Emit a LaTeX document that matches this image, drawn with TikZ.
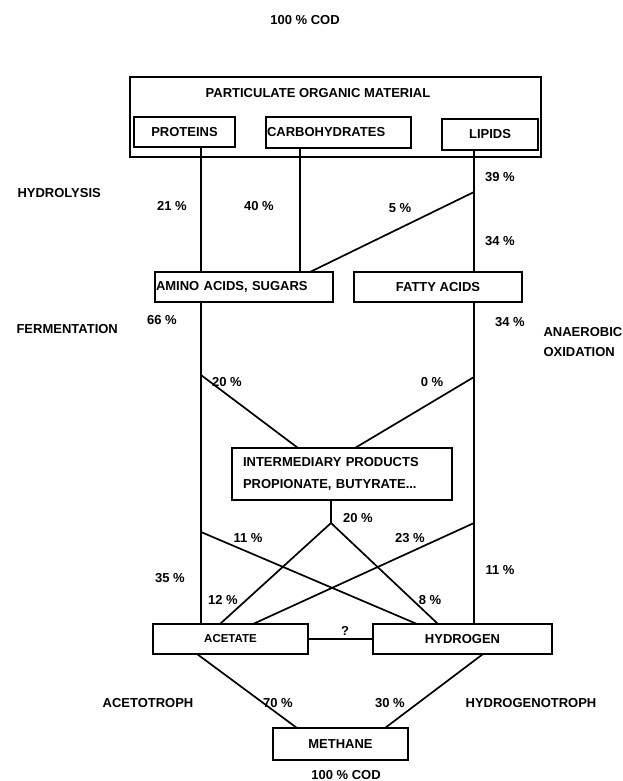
\documentclass[tikz,border=0pt]{standalone}
\usepackage{fontspec}
\setmainfont{Liberation Sans}
\usetikzlibrary{positioning}

\begin{document}
\begin{tikzpicture}[x=1pt, y=-1pt, font=\fontsize{13}{15}\selectfont\bfseries,
  box/.style={draw, line width=1.8pt, outer sep=0pt, inner sep=0pt, minimum height=30pt},
  link/.style={line width=1.7pt}]
  \useasboundingbox (0,0) rectangle (622,781);

  \node (COD1) at (305,20) {100 \% COD};
  \node[box, minimum width=411pt, minimum height=80pt] (POM) at (335.5,117) {};
  \node (POMt) at (318,93) {PARTICULATE ORGANIC MATERIAL};
  \node[box, minimum width=101pt] (P) at (184.5,132) {PROTEINS};
  \node[box, text width=143pt, inner xsep=1pt, align=left, minimum height=31pt] (C) at (338.5,132.5) {CARBOHYDRATES};
  \node[box, minimum width=96pt, minimum height=31pt] (L) at (490,134.5) {LIPIDS};
  \node[box, text width=176pt, inner xsep=1pt, align=left] (AS) at (244,287) {AMINO ACIDS, SUGARS};
  \node[box, minimum width=168pt, right=21pt of AS] (FA) {FATTY ACIDS};
  \node[box, text width=198pt, inner xsep=11pt, align=left, minimum height=52pt,
        font=\fontsize{13}{22}\selectfont\bfseries] (IP) at (342,474) {INTERMEDIARY PRODUCTS\\PROPIONATE, BUTYRATE...};
  \node[box, minimum width=155pt, font=\fontsize{11.5}{13}\selectfont\bfseries] (AC) at (230.5,639) {ACETATE};
  \node[box, minimum width=179pt, right=65pt of AC] (H) {HYDROGEN};
  \node[box, minimum width=135pt, minimum height=32pt] (M) at (340.5,744) {METHANE};
  \node (COD2) at (346,775) {100 \% COD};

  % stage names
  \node[anchor=west] (HY) at (14,193) {HYDROLYSIS};
  \node[anchor=west] (FE) at (13,329) {FERMENTATION};
  \node[anchor=west, align=left, font=\fontsize{13}{20}\selectfont\bfseries] (AO) at (540,342) {ANAEROBIC\\OXIDATION};
  \node (AT) at (148,703) {ACETOTROPH};
  \node (HT) at (531,703) {HYDROGENOTROPH};

  % percentages
  \node (p21) at (172,206) {21 \%};
  \node (p40) at (259,206) {40 \%};
  \node (p5) at (400,208) {5 \%};
  \node (p39) at (500,177) {39 \%};
  \node (p34a) at (500,241) {34 \%};
  \node (p66) at (162,320) {66 \%};
  \node (p34b) at (510,322) {34 \%};
  \node (p20a) at (227,382) {20 \%};
  \node (p0) at (432,382) {0 \%};
  \node (p20b) at (358,518) {20 \%};
  \node (p11a) at (248,538) {11 \%};
  \node (p23) at (410,538) {23 \%};
  \node (p35) at (170,578) {35 \%};
  \node (p11b) at (500,570) {11 \%};
  \node (p12) at (223,600) {12 \%};
  \node (p8) at (430,600) {8 \%};
  \node (q) at (345,631) {?};
  \node (p70) at (278,703) {70 \%};
  \node (p30) at (390,703) {30 \%};

  \coordinate (cL) at (201,0);
  \coordinate (cC) at (300,0);
  \coordinate (cR) at (474,0);
  \coordinate (j5) at (474,192);
  \coordinate (j20) at (201,375);
  \coordinate (j0) at (474,377);
  \coordinate (jI) at (331,523);
  \coordinate (j11) at (201,532);
  \coordinate (j23) at (474,523);

  \draw[link] (P.south -| cL) -- (AS.north -| cL);
  \draw[link] (C.south -| cC) -- (AS.north -| cC);
  \draw[link] (L.south -| cR) -- (FA.north -| cR);
  \draw[link] (j5) -- ([xshift=66pt]AS.north);
  \draw[link] (AS.south -| cL) -- (AC.north -| cL);
  \draw[link] (FA.south -| cR) -- (H.north -| cR);
  \draw[link] (j20) -- ([xshift=-44pt]IP.north);
  \draw[link] (j0) -- ([xshift=13pt]IP.north);
  \draw[link] (IP.south -| jI) -- (jI);
  \draw[link] (jI) -- ([xshift=-10.5pt]AC.north);
  \draw[link] (jI) -- ([xshift=-24.5pt]H.north);
  \draw[link] (j11) -- ([xshift=-45.5pt]H.north);
  \draw[link] (j23) -- ([xshift=22.5pt]AC.north);
  \draw[link] (AC) -- (H);
  \draw[link] ([xshift=-33.5pt]AC.south) -- ([xshift=-43.5pt]M.north);
  \draw[link] ([xshift=20.5pt]H.south) -- ([xshift=44.5pt]M.north);
\end{tikzpicture}
\end{document}
